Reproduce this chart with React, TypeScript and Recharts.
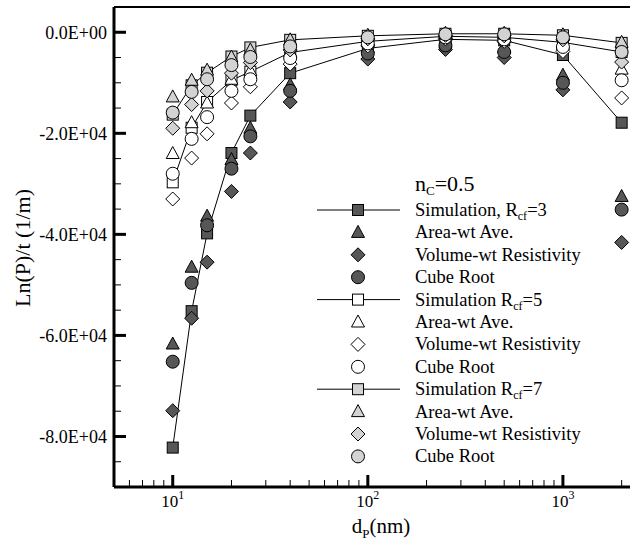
import { ScatterChart, Scatter, XAxis, YAxis, ReferenceLine, Legend } from "recharts";

const FONT = "'Liberation Serif', 'Times New Roman', serif";
const DARK = "#575757";
const LIGHT = "#d3d3d3";
const WHITE = "#ffffff";

// particle diameters (nm)
const diameters = [10, 12.5, 15, 20, 25, 40, 100, 250, 500, 1000, 2000];

// R_cf = 3
const sim3 = [-82200, -55200, -39800, -23900, -16500, -8100, -3200, -1400, -1600, -4500, -17900];
const area3 = [-61700, -46500, -36400, -25200, -19000, -10400, -3000, -2000, -3000, -8500, -32500];
const vol3 = [-74900, -56600, -45500, -31500, -23900, -13800, -5300, -3400, -5000, -11400, -41600];
const cube3 = [-65200, -49600, -38200, -27000, -20600, -11600, -4200, -2600, -3900, -10000, -35100];

// R_cf = 5
const sim5 = [-29700, -18900, -13800, -9500, -7800, -4000, -1800, -800, -1000, -2000, -3900];
const area5 = [-24000, -17900, -14000, -9300, -7600, -3800, -1500, -700, -1000, -2400, -7300];
const vol5 = [-33000, -24900, -20100, -14000, -10800, -6300, -2700, -1300, -1800, -3800, -13000];
const cube5 = [-28000, -21100, -16800, -11600, -9300, -5100, -2200, -1000, -1400, -2900, -9500];

// R_cf = 7
const sim7 = [-16300, -10500, -8000, -4800, -3000, -1500, -700, -300, -300, -600, -2100];
const area7 = [-12800, -9500, -7500, -4900, -3500, -1500, -600, -200, -200, -500, -2000];
const vol7 = [-19000, -14300, -11600, -8100, -6000, -3500, -1300, -600, -700, -1500, -5900];
const cube7 = [-15900, -11800, -9300, -6500, -4900, -2800, -1000, -400, -400, -1000, -3900];

const xTicks = [6, 7, 8, 9, 10, 20, 30, 40, 50, 60, 70, 80, 90, 100, 200, 300, 400, 500, 600, 700, 800, 900, 1000, 2000, 3000];
const xMajor = [10, 100, 1000];
const yTicks = [0, -5000, -10000, -15000, -20000, -25000, -30000, -35000, -40000, -45000, -50000, -55000, -60000, -65000, -70000, -75000, -80000, -85000];

type Kind = "square" | "triangle" | "diamond" | "circle";

const series: { name: string; values: number[]; kind: Kind; fill: string; line: boolean }[] = [
  { name: "sim3", values: sim3, kind: "square", fill: DARK, line: true },
  { name: "area3", values: area3, kind: "triangle", fill: DARK, line: false },
  { name: "vol3", values: vol3, kind: "diamond", fill: DARK, line: false },
  { name: "cube3", values: cube3, kind: "circle", fill: DARK, line: false },
  { name: "sim5", values: sim5, kind: "square", fill: WHITE, line: true },
  { name: "area5", values: area5, kind: "triangle", fill: WHITE, line: false },
  { name: "vol5", values: vol5, kind: "diamond", fill: WHITE, line: false },
  { name: "cube5", values: cube5, kind: "circle", fill: WHITE, line: false },
  { name: "sim7", values: sim7, kind: "square", fill: LIGHT, line: true },
  { name: "area7", values: area7, kind: "triangle", fill: LIGHT, line: false },
  { name: "vol7", values: vol7, kind: "diamond", fill: LIGHT, line: false },
  { name: "cube7", values: cube7, kind: "circle", fill: LIGHT, line: false },
];

const legendRows: { label: string; sub?: string; tail?: string; kind: Kind; fill: string; line: boolean }[] = [
  { label: "Simulation, R", sub: "cf", tail: "=3", kind: "square", fill: DARK, line: true },
  { label: "Area-wt Ave.", kind: "triangle", fill: DARK, line: false },
  { label: "Volume-wt Resistivity", kind: "diamond", fill: DARK, line: false },
  { label: "Cube Root", kind: "circle", fill: DARK, line: false },
  { label: "Simulation R", sub: "cf", tail: "=5", kind: "square", fill: WHITE, line: true },
  { label: "Area-wt Ave.", kind: "triangle", fill: WHITE, line: false },
  { label: "Volume-wt Resistivity", kind: "diamond", fill: WHITE, line: false },
  { label: "Cube Root", kind: "circle", fill: WHITE, line: false },
  { label: "Simulation R", sub: "cf", tail: "=7", kind: "square", fill: LIGHT, line: true },
  { label: "Area-wt Ave.", kind: "triangle", fill: LIGHT, line: false },
  { label: "Volume-wt Resistivity", kind: "diamond", fill: LIGHT, line: false },
  { label: "Cube Root", kind: "circle", fill: LIGHT, line: false },
];

function Marker({ kind, cx, cy, fill }: { kind: Kind; cx: number; cy: number; fill: string }) {
  const p = { fill, stroke: "#000", strokeWidth: 1 };
  if (kind === "square") return <rect x={cx - 5.5} y={cy - 5.5} width={11} height={11} {...p} />;
  if (kind === "triangle")
    return <polygon points={`${cx},${cy - 7} ${cx + 6.5},${cy + 5} ${cx - 6.5},${cy + 5}`} {...p} />;
  if (kind === "diamond")
    return <polygon points={`${cx},${cy - 7} ${cx + 7},${cy} ${cx},${cy + 7} ${cx - 7},${cy}`} {...p} />;
  return <circle cx={cx} cy={cy} r={6.5} {...p} />;
}

function YTick(props: any) {
  const { x, y, payload } = props;
  const v = payload.value;
  const major = v % 20000 === 0;
  const label = v === 0 ? "0.0E+00" : `${(v / 10000).toFixed(1)}E+04`;
  return (
    <g>
      <line x1={x} x2={x + (major ? 12 : 7)} y1={y} y2={y} stroke="#000" strokeWidth={major ? 3 : 1} />
      {major && (
        <text x={x - 7} y={y} dy="0.35em" textAnchor="end" fontSize={18} fontFamily={FONT} fill="#000">
          {label}
        </text>
      )}
    </g>
  );
}

function XTick(props: any) {
  const { x, y, payload } = props;
  const v = payload.value;
  const major = xMajor.includes(v);
  return (
    <g>
      <line x1={x} x2={x} y1={y} y2={y - (major ? 12 : 7)} stroke="#000" strokeWidth={major ? 3 : 1} />
      {major && (
        <text x={x} y={y + 20} textAnchor="middle" fontSize={17} fontFamily={FONT} fill="#000">
          10
          <tspan fontSize={12} dy={-8}>
            {Math.round(Math.log10(v))}
          </tspan>
        </text>
      )}
    </g>
  );
}

function LegendBox() {
  const top = 40;
  const step = 22.4;
  return (
    <svg width={320} height={300} style={{ display: "block" }}>
      <text x={115} y={21} fontSize={22} fontFamily={FONT} fill="#000">
        n<tspan fontSize={13} dy={4}>C</tspan>
        <tspan dy={-4}>=0.5</tspan>
      </text>
      {legendRows.map((r, i) => {
        const cy = top + i * step;
        return (
          <g key={i}>
            {r.line && <line x1={17} x2={100} y1={cy} y2={cy} stroke="#000" strokeWidth={1} />}
            <Marker kind={r.kind} cx={58} cy={cy} fill={r.fill} />
            <text x={115} y={cy + 6} fontSize={18.5} fontFamily={FONT} fill="#000">
              {r.label}
              {r.sub && (
                <tspan fontSize={12} dy={4}>
                  {r.sub}
                </tspan>
              )}
              {r.tail && <tspan dy={-4}>{r.tail}</tspan>}
            </text>
          </g>
        );
      })}
    </svg>
  );
}

export default function App() {
  return (
    <div
      style={{ position: "absolute", left: 0, top: 0, width: 630, height: 546, overflow: "hidden", background: "#fff" }}
    >
      <ScatterChart width={660} height={546} margin={{ top: 7, right: 4, bottom: 19, left: 54 }}>
        <XAxis
          type="number"
          dataKey="x"
          scale="log"
          domain={[5, 3000]}
          allowDataOverflow
          ticks={xTicks}
          interval={0}
          tickSize={0}
          tickMargin={0}
          tickLine={false}
          tick={XTick}
          height={40}
          axisLine={{ stroke: "#000", strokeWidth: 3 }}
          label={{
            content: () => (
              <text x={381} y={533} textAnchor="middle" fontSize={21} fontFamily={FONT} fill="#000">
                d<tspan fontSize={13} dy={5}>P</tspan>
                <tspan dy={-5}>(nm)</tspan>
              </text>
            ),
          }}
        />
        <YAxis
          type="number"
          dataKey="y"
          domain={[-90000, 5000]}
          allowDataOverflow
          ticks={yTicks}
          interval={0}
          tickSize={0}
          tickMargin={0}
          tickLine={false}
          tick={YTick}
          width={60}
          axisLine={{ stroke: "#000", strokeWidth: 3 }}
          label={{
            content: () => (
              <text
                transform="translate(30,248) rotate(-90)"
                textAnchor="middle"
                fontSize={22}
                fontFamily={FONT}
                fill="#000"
              >
                Ln(P)/t (1/m)
              </text>
            ),
          }}
        />
        <ReferenceLine y={5000} stroke="#000" strokeWidth={2} ifOverflow="visible" />
        {series.map((s) => (
          <Scatter
            key={s.name}
            name={s.name}
            data={diameters.map((d, i) => ({ x: d, y: s.values[i] }))}
            isAnimationActive={false}
            line={s.line ? { stroke: "#000", strokeWidth: 1 } : false}
            lineType="joint"
            shape={(p: any) => <Marker kind={s.kind} cx={p.cx} cy={p.cy} fill={s.fill} />}
          />
        ))}
        <Legend
          content={LegendBox}
          layout="vertical"
          align="center"
          verticalAlign="middle"
          wrapperStyle={{ left: 300, top: 170, width: 320, height: 300 }}
        />
      </ScatterChart>
    </div>
  );
}
